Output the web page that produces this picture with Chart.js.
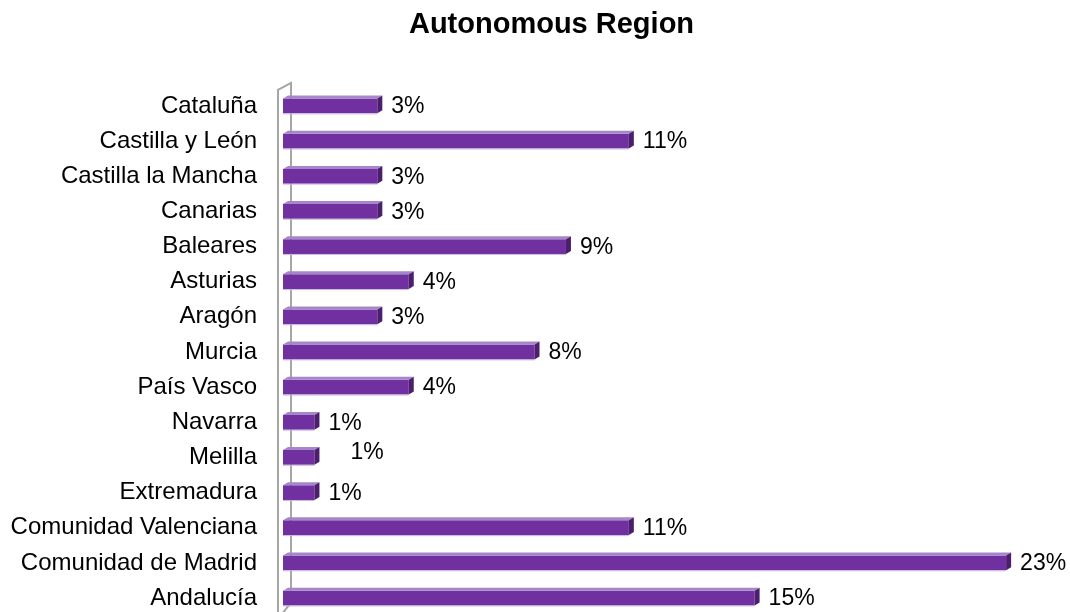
<!DOCTYPE html>
<html>
<head>
<meta charset="utf-8">
<title>Autonomous Region</title>
<script src="https://cdn.jsdelivr.net/npm/chart.js@4"></script>
<style>
  html, body { margin: 0; padding: 0; background: #fff; overflow: hidden; }
  canvas { display: block; }
</style>
</head>
<body>
<!-- taller than the window: the y axis keeps ~40px below the last label, which falls off-screen -->
<canvas id="regionChart" width="1070" height="656"></canvas>
<script>
// Data (top to bottom)
const regions = [
  'Cataluña', 'Castilla y León', 'Castilla la Mancha', 'Canarias', 'Baleares',
  'Asturias', 'Aragón', 'Murcia', 'País Vasco', 'Navarra', 'Melilla',
  'Extremadura', 'Comunidad Valenciana', 'Comunidad de Madrid', 'Andalucía'
];
const shares = [3, 11, 3, 3, 9, 4, 3, 8, 4, 1, 1, 1, 11, 23, 15];
const axisMin = 0;
const axisMax = 25;

const FONT = "'Liberation Sans', Arial, sans-serif";
const DEPTH_X = 5;
const DEPTH_Y = 3;

// Left "wall" of the old 3D chart, drawn behind the bars
const wallPlugin = {
  id: 'wall',
  afterLayout(chart) {
    // the original title sits a little right of the page centre
    if (chart.titleBlock) chart.titleBlock.left += 34;
  },
  beforeDatasetsDraw(chart) {
    const { ctx, chartArea } = chart;
    const xl = chartArea.left - 5;
    const xr = chartArea.left + 8;
    ctx.save();
    ctx.strokeStyle = '#a6a6a6';
    ctx.lineWidth = 2;
    ctx.beginPath();
    ctx.moveTo(xl, chart.height);
    ctx.lineTo(xl, chartArea.top + 1.5);
    ctx.lineTo(xr, chartArea.top - 5.5);
    ctx.lineTo(xr, chartArea.bottom - 13);
    ctx.lineTo(chartArea.left, chartArea.bottom - 3);
    ctx.stroke();
    ctx.restore();
  }
};

// Fake depth on each bar + the percentage labels
const barDepthPlugin = {
  id: 'barDepth',
  afterDatasetsDraw(chart) {
    const { ctx } = chart;
    const meta = chart.getDatasetMeta(0);
    ctx.save();
    meta.data.forEach((bar, i) => {
      const top = bar.y - bar.height / 2;
      const bottom = bar.y + bar.height / 2;
      // top face
      ctx.fillStyle = '#a586c9';
      ctx.beginPath();
      ctx.moveTo(bar.base, top);
      ctx.lineTo(bar.base + DEPTH_X, top - DEPTH_Y);
      ctx.lineTo(bar.x + DEPTH_X, top - DEPTH_Y);
      ctx.lineTo(bar.x, top);
      ctx.closePath();
      ctx.fill();
      // right face
      ctx.fillStyle = '#4b1e6e';
      ctx.beginPath();
      ctx.moveTo(bar.x, top);
      ctx.lineTo(bar.x + DEPTH_X, top - DEPTH_Y);
      ctx.lineTo(bar.x + DEPTH_X, bottom - DEPTH_Y);
      ctx.lineTo(bar.x, bottom);
      ctx.closePath();
      ctx.fill();
      // soft light edge under the front face
      ctx.fillStyle = '#cbb8e0';
      ctx.fillRect(bar.base, bottom, bar.x - bar.base, 1);

      // label, Melilla's sits a bit off like in the original
      let dx = 14, dy = 1;
      if (i === 10) { dx += 22; dy -= 6; }
      ctx.fillStyle = '#000';
      ctx.font = '23px ' + FONT;
      ctx.textAlign = 'left';
      ctx.textBaseline = 'middle';
      ctx.fillText(Math.round(shares[i]) + '%', bar.x + dx, bar.y + dy);
    });
    ctx.restore();
  }
};

function buildChart() {
  const ctx = document.getElementById('regionChart').getContext('2d');

  new Chart(ctx, {
    type: 'bar',
    data: {
      labels: regions,
      datasets: [{
        data: shares,
        backgroundColor: '#7030a0',
        borderWidth: 0,
        barPercentage: 0.42,
        categoryPercentage: 1
      }]
    },
    options: {
      indexAxis: 'y',
      responsive: false,
      animation: false,
      layout: { autoPadding: false, padding: { top: 0, right: 1, bottom: 0, left: 0 } },
      plugins: {
        legend: { display: false },
        tooltip: { enabled: false },
        title: {
          display: true,
          text: 'Autonomous Region',
          color: '#000',
          font: { family: FONT, size: 29, weight: 'bold', lineHeight: 1.2 },
          padding: { top: 8, bottom: 45.6 }
        }
      },
      scales: {
        x: {
          display: false,
          min: axisMin,
          max: axisMax
        },
        y: {
          grid: { display: false, drawTicks: false },
          border: { display: false },
          ticks: {
            color: '#000',
            padding: 26,
            font: { family: FONT, size: 24 }
          },
          afterFit(scale) { scale.width = 283; }
        }
      }
    },
    plugins: [wallPlugin, barDepthPlugin]
  });
}

buildChart();
</script>
</body>
</html>
